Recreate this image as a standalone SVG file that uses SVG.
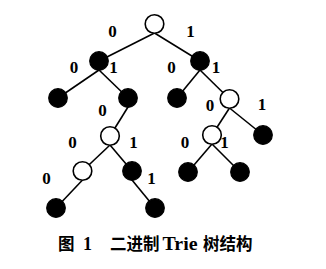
<svg xmlns="http://www.w3.org/2000/svg" width="326" height="269" viewBox="0 0 326 269">
  <style>
    .edge { stroke: #000; stroke-width: 1.6; fill: none; }
    .leaf { fill: #000; stroke: #000; stroke-width: 1.2; }
    .open { fill: #fff; stroke: #000; stroke-width: 1.6; }
    .bit { font-family: "Liberation Serif", serif; font-weight: bold; font-size: 17px; text-anchor: middle; fill: #000; }
    .cap { font-family: "Noto Sans CJK SC", "Liberation Serif", sans-serif; font-weight: bold; font-size: 16.5px; fill: #000; }
    .capl { font-family: "Liberation Serif", serif; font-weight: bold; font-size: 18px; fill: #000; }
  </style>
  <rect width="326" height="269" fill="#fff"/>

  <!-- connectors: each starts at the bottom of the parent node -->
  <g id="edges" class="edge">
    <line x1="154.5" y1="33" x2="99" y2="61"/>
    <line x1="154.5" y1="33" x2="200" y2="61"/>
    <line x1="99" y1="70" x2="58" y2="98"/>
    <line x1="99" y1="70" x2="128" y2="98"/>
    <line x1="200" y1="70" x2="177" y2="98"/>
    <line x1="200" y1="70" x2="229.5" y2="99"/>
    <line x1="128" y1="107" x2="110" y2="136"/>
    <line x1="229.5" y1="108" x2="212" y2="135"/>
    <line x1="229.5" y1="108" x2="263" y2="135"/>
    <line x1="110" y1="145" x2="82.5" y2="171"/>
    <line x1="110" y1="145" x2="132" y2="171"/>
    <line x1="212" y1="144" x2="188" y2="172"/>
    <line x1="212" y1="144" x2="240" y2="172"/>
    <line x1="82.5" y1="180" x2="56" y2="208"/>
    <line x1="132" y1="180" x2="155" y2="208"/>
  </g>

  <g id="n0"><circle class="open" cx="154.5" cy="24" r="9.3"/></g>
  <g id="n1"><circle class="leaf" cx="99" cy="61" r="9.3"/></g>
  <g id="n2"><circle class="leaf" cx="200" cy="61" r="9.3"/></g>
  <g id="n3"><circle class="leaf" cx="58" cy="98" r="9.3"/></g>
  <g id="n4"><circle class="leaf" cx="128" cy="98" r="9.3"/></g>
  <g id="n5"><circle class="leaf" cx="177" cy="98" r="9.3"/></g>
  <g id="n6"><circle class="open" cx="229.5" cy="99" r="9.3"/></g>
  <g id="n7"><circle class="open" cx="110" cy="136" r="9.3"/></g>
  <g id="n8"><circle class="open" cx="212" cy="135" r="9.3"/></g>
  <g id="n9"><circle class="leaf" cx="263" cy="135" r="9.3"/></g>
  <g id="n10"><circle class="open" cx="82.5" cy="171" r="9.3"/></g>
  <g id="n11"><circle class="leaf" cx="132" cy="171" r="9.3"/></g>
  <g id="n12"><circle class="leaf" cx="188" cy="172" r="9.3"/></g>
  <g id="n13"><circle class="leaf" cx="240" cy="172" r="9.3"/></g>
  <g id="n14"><circle class="leaf" cx="56" cy="208" r="9.3"/></g>
  <g id="n15"><circle class="leaf" cx="155" cy="208" r="9.3"/></g>

  <!-- branch bits -->
  <g id="labels" class="bit">
    <text x="112.5" y="36.5">0</text>
    <text x="190.5" y="36.5">1</text>
    <text x="74" y="73">0</text>
    <text x="113.5" y="73">1</text>
    <text x="171.5" y="73">0</text>
    <text x="216" y="73">1</text>
    <text x="102.5" y="116">0</text>
    <text x="210" y="111">0</text>
    <text x="262" y="110">1</text>
    <text x="72.5" y="148">0</text>
    <text x="133.5" y="148">1</text>
    <text x="185" y="147.5">0</text>
    <text x="224.5" y="147.5">1</text>
    <text x="46.5" y="184">0</text>
    <text x="151.5" y="184">1</text>
  </g>

  <!-- caption -->
  <g id="caption">
    <text class="cap" x="58" y="250">图</text>
    <text class="capl" x="83" y="250">1</text>
    <text class="cap" x="110" y="250">二进制</text>
    <text class="capl" x="162.5" y="250" textLength="35" lengthAdjust="spacingAndGlyphs">Trie</text>
    <text class="cap" x="203" y="250">树结构</text>
  </g>
</svg>
